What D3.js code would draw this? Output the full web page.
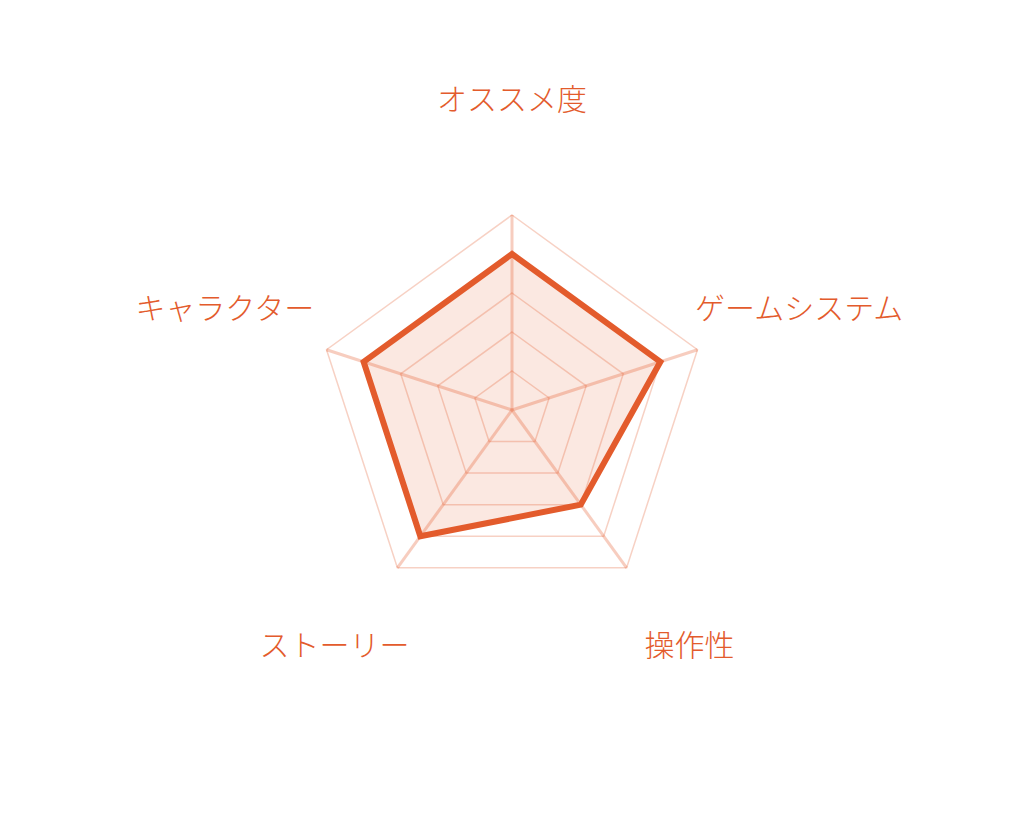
<!DOCTYPE html>
<html>
<head>
<meta charset="utf-8">
<script src="https://cdn.jsdelivr.net/npm/d3@7"></script>
<style>
  html, body { margin: 0; padding: 0; background: #fff; }
</style>
</head>
<body>
<div id="chart"></div>
<script>
// axis labels, clockwise from the top
const categories = ["オススメ度", "ゲームシステム", "操作性", "ストーリー", "キャラクター"];
const values = [4, 4, 3, 4, 4];
const levels = [1, 2, 3, 4, 5];
const maxValue = 5;

const width = 1024;
const height = 820;
const cx = 512, cy = 410;
const radius = 195;
const labelRadius = 302;
const accent = "#e35b2c";

const svg = d3.select("#chart")
    .append("svg")
    .attr("width", width)
    .attr("height", height)
    .append("g")
    .attr("transform", `translate(${cx},${cy})`);

const r = d3.scaleLinear().domain([0, maxValue]).range([0, radius]);
const angle = d3.scaleLinear()
    .domain([0, categories.length])
    .range([0, 2 * Math.PI]);

// point at value v on axis i (0 = straight up)
const pt = (i, v) => [Math.sin(angle(i)) * r(v), -Math.cos(angle(i)) * r(v)];

const line = d3.line().curve(d3.curveLinearClosed);

// 1. data fill (under the grid)
svg.append("path")
    .attr("d", line(values.map((v, i) => pt(i, v))))
    .attr("fill", accent)
    .attr("fill-opacity", 0.14)
    .attr("stroke", "none");

// 2. grid rings
svg.selectAll(".ring")
    .data(levels)
    .join("path")
    .attr("class", "ring")
    .attr("d", l => line(categories.map((c, i) => pt(i, l))))
    .attr("fill", "none")
    .attr("stroke", accent)
    .attr("stroke-opacity", 0.28)
    .attr("stroke-width", 1.5);

// 3. spokes
svg.selectAll(".spoke")
    .data(categories)
    .join("line")
    .attr("class", "spoke")
    .attr("x1", 0)
    .attr("y1", 0)
    .attr("x2", (c, i) => pt(i, maxValue)[0])
    .attr("y2", (c, i) => pt(i, maxValue)[1])
    .attr("stroke", accent)
    .attr("stroke-opacity", 0.3)
    .attr("stroke-width", 3);

// 4. data outline
svg.append("path")
    .attr("d", line(values.map((v, i) => pt(i, v))))
    .attr("fill", "none")
    .attr("stroke", accent)
    .attr("stroke-width", 6)
    .attr("stroke-linejoin", "miter");

// 5. axis labels
svg.selectAll(".axis-label")
    .data(categories)
    .join("text")
    .attr("class", "axis-label")
    .attr("x", (c, i) => Math.sin(angle(i)) * labelRadius)
    .attr("y", (c, i) => -Math.cos(angle(i)) * labelRadius - 11)
    .attr("text-anchor", "middle")
    .attr("dominant-baseline", "central")
    .text(d => d)
    .style("font-family", "'Noto Sans CJK JP', 'Noto Sans', sans-serif")
    .style("font-size", "30px")
    .style("font-weight", 300)
    .style("fill", accent);
</script>
</body>
</html>
